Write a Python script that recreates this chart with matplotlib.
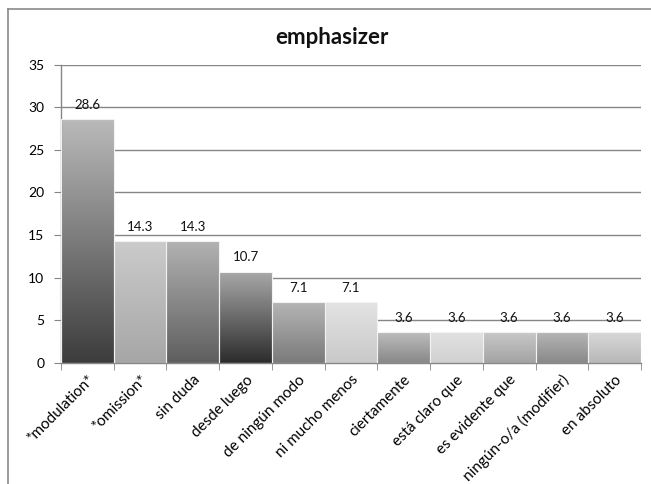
import numpy as np
import matplotlib
matplotlib.use("Agg")
import matplotlib.pyplot as plt
from matplotlib.colors import LinearSegmentedColormap

plt.rcParams['font.family'] = ['Lato', 'DejaVu Sans']

title = "emphasizer"
categories = ["*modulation*", "*omission*", "sin duda", "desde luego",
              "de ningún modo", "ni mucho menos", "ciertamente",
              "está claro que", "es evidente que", "ningún-o/a (modifier)",
              "en absoluto"]
values = [28.6, 14.3, 14.3, 10.7, 7.1, 7.1, 3.6, 3.6, 3.6, 3.6, 3.6]
y_ticks = [0, 5, 10, 15, 20, 25, 30, 35]

# vertical gradient per bar: (top shade, bottom shade)
shades = [("#bababa", "#3c3c3c"), ("#cbcbcb", "#a6a6a6"), ("#b2b2b2", "#5e5e5e"),
          ("#a9a9a9", "#2c2c2c"), ("#b5b5b5", "#7a7a7a"), ("#e3e3e3", "#c9c9c9"),
          ("#bdbdbd", "#888888"), ("#e2e2e2", "#d0d0d0"), ("#c8c8c8", "#a3a3a3"),
          ("#b6b6b6", "#888888"), ("#d8d8d8", "#b8b8b8")]

fig = plt.figure(figsize=(6.51, 4.84), dpi=100)
ax = fig.add_axes([61 / 651, 1 - 363 / 484, 580 / 651, (363 - 64.5) / 484])

x = np.arange(len(categories))
bars = ax.bar(x, values, width=1.0, facecolor="none", edgecolor="#f2f2f2",
              linewidth=0.8, zorder=3)

grad = np.linspace(0, 1, 256).reshape(-1, 1)
for bar, (top, bottom) in zip(bars, shades):
    cmap = LinearSegmentedColormap.from_list("g", [bottom, top])
    x0, w, h = bar.get_x(), bar.get_width(), bar.get_height()
    im = ax.imshow(grad, cmap=cmap, origin="lower", aspect="auto",
                   extent=(x0, x0 + w, 0, h), zorder=2, interpolation="bilinear")
    im.set_clip_path(bar)

for xi, v in zip(x, values):
    ax.annotate(f"{v:.1f}", (xi, v), xytext=(0, 6), textcoords="offset points",
                ha="center", va="bottom", fontsize=9.5, color="#111111", zorder=4)

ax.set_xlim(-0.5, len(categories) - 0.5)
ax.set_ylim(0, 35)
ax.set_yticks(y_ticks)
ax.set_yticklabels([str(t) for t in y_ticks], fontsize=10)
ax.yaxis.grid(True, color="#868686", linewidth=1.0, zorder=1)
ax.set_axisbelow(True)

ax.set_xticks(x)
ax.set_xticklabels(categories, rotation=45, ha="right", rotation_mode="anchor",
                   fontsize=11)
ax.tick_params(axis="x", length=0, pad=7)
ax.set_xticks(np.arange(len(categories) + 1) - 0.5, minor=True)
ax.tick_params(axis="x", which="minor", length=5, color="#868686", direction="out")
ax.tick_params(axis="y", length=5, color="#868686", direction="out", pad=7)

for side in ("top", "right"):
    ax.spines[side].set_visible(False)
for side in ("left", "bottom"):
    ax.spines[side].set_color("#868686")
    ax.spines[side].set_linewidth(1.0)

fig.text(332 / 651, 1 - 37 / 484, title, ha="center", va="center",
         fontsize=16, fontweight="bold", color="#111111")

# outer chart frame (top and left edges visible)
fig.add_artist(plt.Line2D([8 / 651, 1.0], [1 - 9 / 484, 1 - 9 / 484],
                          transform=fig.transFigure, color="#8a8a8a", linewidth=1.2))
fig.add_artist(plt.Line2D([8 / 651, 8 / 651], [0, 1 - 9 / 484],
                          transform=fig.transFigure, color="#8a8a8a", linewidth=1.2))

fig.savefig("out.png", dpi=100)
